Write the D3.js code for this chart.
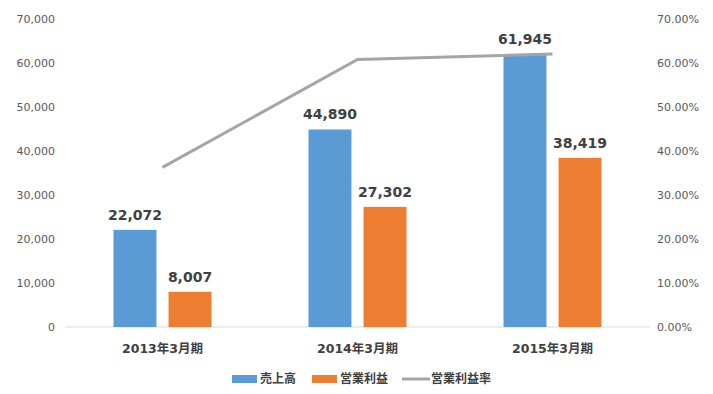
<!DOCTYPE html>
<html>
<head>
<meta charset="utf-8">
<script src="https://cdn.jsdelivr.net/npm/d3@7"></script>
<style>
  body { margin: 0; background: #fff; }
  svg { font-family: "DejaVu Sans", "Noto Sans CJK JP", sans-serif; }
</style>
</head>
<body>
<div id="chart"></div>
<script>
// データ
const categories = ["2013年3月期", "2014年3月期", "2015年3月期"];
const sales = [22072, 44890, 61945];       // 売上高
const profit = [8007, 27302, 38419];       // 営業利益
const margin_rate = [0.3628, 0.6082, 0.6202]; // 営業利益率
const leftTicks = [0, 10000, 20000, 30000, 40000, 50000, 60000, 70000];
const rightTicks = [0, 0.1, 0.2, 0.3, 0.4, 0.5, 0.6, 0.7];
const seriesNames = ["売上高", "営業利益", "営業利益率"];
const colors = ["#5b9bd5", "#ed7d31", "#a5a5a5"];

const W = 713, H = 394;
const svg = d3.select("#chart").append("svg")
    .attr("width", W)
    .attr("height", H);

// スケール
const x = d3.scaleBand().domain(categories).range([65, 650]);
const xs = d3.scaleBand().domain([0, 1]).range([-49, 49]).paddingInner(0.22);
const y = d3.scaleLinear().domain([0, 70000]).range([327, 19]);
const y2 = d3.scaleLinear().domain([0, 0.7]).range([327, 19]);

// 左軸
const leftAxis = svg.append("g")
    .attr("transform", "translate(55,0)")
    .call(d3.axisLeft(y).tickValues(leftTicks).tickFormat(d3.format(",")).tickSize(0).tickPadding(0));
leftAxis.select(".domain").remove();
leftAxis.selectAll("text")
    .style("font-size", "11px")
    .style("fill", "#595959")
    .style("font-family", "'DejaVu Sans', sans-serif");

// 右軸
const rightAxis = svg.append("g")
    .attr("transform", "translate(657,0)")
    .call(d3.axisRight(y2).tickValues(rightTicks).tickFormat(d3.format(".2%")).tickSize(0).tickPadding(0));
rightAxis.select(".domain").remove();
rightAxis.selectAll("text")
    .style("font-size", "11px")
    .style("fill", "#595959")
    .style("font-family", "'DejaVu Sans', sans-serif");

// 基準線
svg.append("line")
    .attr("x1", 65).attr("x2", 650)
    .attr("y1", y(0)).attr("y2", y(0))
    .attr("stroke", "#d9d9d9")
    .attr("stroke-width", 1);

// 棒グラフ
const barData = [];
categories.forEach((c, i) => {
    barData.push({ cat: c, s: 0, v: sales[i] });
    barData.push({ cat: c, s: 1, v: profit[i] });
});
const cx = c => x(c) + x.bandwidth() / 2;

svg.selectAll(".bar")
    .data(barData)
    .enter()
    .append("rect")
    .attr("class", "bar")
    .attr("x", d => cx(d.cat) + xs(d.s))
    .attr("width", xs.bandwidth())
    .attr("y", d => y(d.v))
    .attr("height", d => y(0) - y(d.v))
    .attr("fill", d => colors[d.s]);

// 値ラベル
svg.selectAll(".label")
    .data(barData)
    .enter()
    .append("text")
    .attr("class", "label")
    .attr("x", d => cx(d.cat) + xs(d.s) + xs.bandwidth() / 2)
    .attr("y", d => y(d.v) - 10)
    .attr("text-anchor", "middle")
    .style("font-size", "14px")
    .style("font-weight", "bold")
    .style("fill", "#404040")
    .text(d => d3.format(",")(d.v));

// 折れ線
const line = d3.line()
    .x((d, i) => cx(categories[i]))
    .y(d => y2(d));
svg.append("path")
    .datum(margin_rate)
    .attr("d", line)
    .attr("fill", "none")
    .attr("stroke", colors[2])
    .attr("stroke-width", 3);

// カテゴリラベル
svg.selectAll(".cat")
    .data(categories)
    .enter()
    .append("text")
    .attr("class", "cat")
    .attr("x", d => cx(d))
    .attr("y", 353)
    .attr("text-anchor", "middle")
    .style("font-size", "12.5px")
    .style("font-weight", "bold")
    .style("fill", "#404040")
    .text(d => d);

// 凡例
const legend = svg.append("g").attr("transform", "translate(232,379)");
const legendX = [0, 80, 170];
seriesNames.forEach((name, i) => {
    const g = legend.append("g").attr("transform", `translate(${legendX[i]},0)`);
    if (i < 2) {
        g.append("rect")
            .attr("x", 0).attr("y", -4)
            .attr("width", 25).attr("height", 8)
            .attr("fill", colors[i]);
    } else {
        g.append("line")
            .attr("x1", 0).attr("x2", 28)
            .attr("y1", 0).attr("y2", 0)
            .attr("stroke", colors[i])
            .attr("stroke-width", 3);
    }
    g.append("text")
        .attr("x", i < 2 ? 28 : 29)
        .attr("y", 0)
        .attr("dy", "0.35em")
        .style("font-size", "12px")
        .style("font-weight", "bold")
        .style("fill", "#404040")
        .text(name);
});
</script>
</body>
</html>
